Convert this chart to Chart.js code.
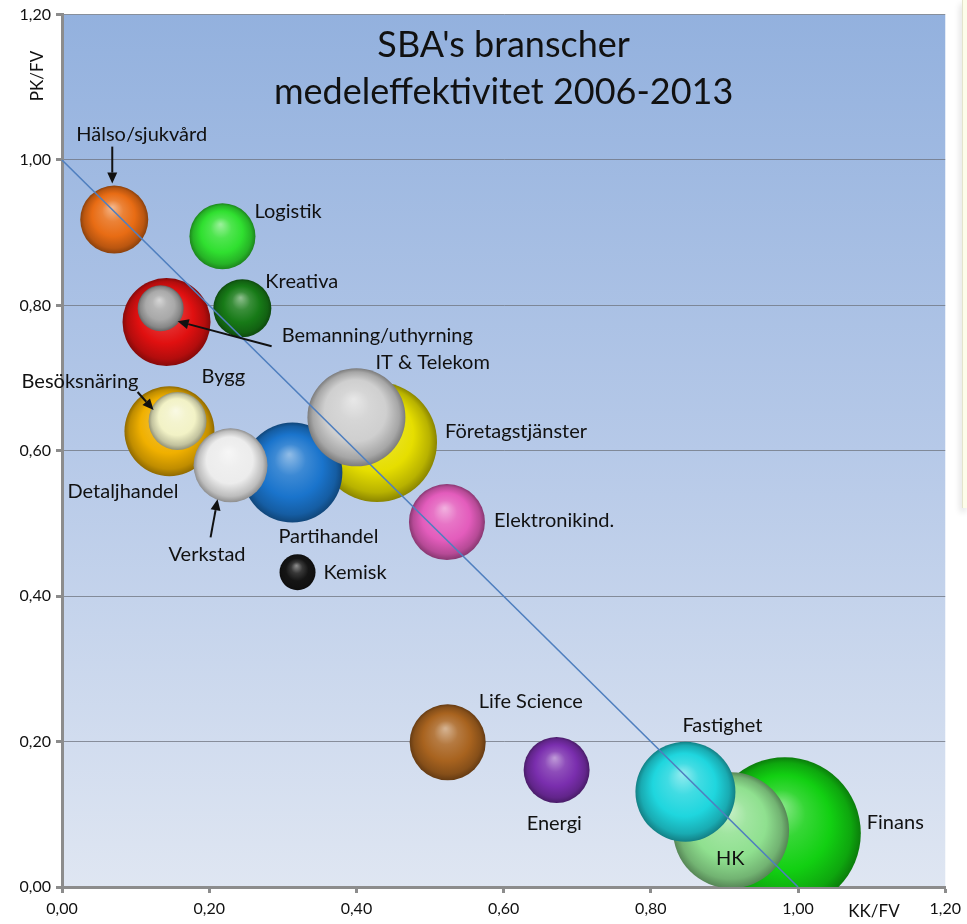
<!DOCTYPE html>
<html lang="sv">
<head>
<meta charset="UTF-8">
<title>SBA's branscher medeleffektivitet 2006-2013</title>
<script src="https://cdn.jsdelivr.net/npm/chart.js"></script>
<style>
  html, body { margin: 0; padding: 0; background: #fff; }
  #wrap { position: relative; width: 967px; height: 924px; }
  #side { position: absolute; left: 962px; top: 0; width: 5px; height: 508px;
          background: #fdfdea; border-left: 1px solid #e4e4cc; box-shadow: -2px 4px 6px rgba(0,0,0,0.12); }
</style>
</head>
<body>
<div id="wrap">
  <canvas id="chart" width="967" height="924"></canvas>
  <div id="side"></div>
</div>
<script>
// branches in drawing order (first drawn = furthest back)
const branches = ['Finans', 'HK', 'Fastighet', 'Företagstjänster', 'Partihandel', 'IT & Telekom',
  'Detaljhandel', 'Besöksnäring', 'Verkstad', 'Bygg', 'Bemanning/uthyrning', 'Hälso/sjukvård',
  'Logistik', 'Kreativa', 'Elektronikind.', 'Kemisk', 'Life Science', 'Energi'];
const kkfv = [0.982, 0.909, 0.847, 0.428, 0.313, 0.400, 0.146, 0.157, 0.229, 0.142, 0.134, 0.071,
  0.218, 0.245, 0.523, 0.320, 0.524, 0.672];
const pkfv = [0.074, 0.078, 0.131, 0.612, 0.570, 0.646, 0.627, 0.641, 0.580, 0.777, 0.796, 0.918,
  0.895, 0.796, 0.502, 0.433, 0.199, 0.161];
const sizes = [76, 58, 50, 60, 50, 49, 45, 29, 37, 44, 23, 34, 33, 29, 38, 18, 38, 33];
const tickValues = [0, 0.2, 0.4, 0.6, 0.8, 1.0, 1.2];
const breakEven = [{ x: 0, y: 1 }, { x: 1, y: 0 }];

const sphereColors = ['#12d012', '#8fe08f', '#1fd6de', '#e6de00', '#1a74cc', '#cfcfcf',
  '#f0b000', '#f2f2c6', '#ececec', '#e01010', '#a9a9a9', '#e86c14',
  '#30e030', '#177a17', '#e35cbc', '#151515', '#a8631f', '#7a2eae'];

// label placement relative to the bubble centre: [dx, dy] for text, optional arrow [x1,y1,x2,y2]
const labelLayout = {
  'Finans': { t: [82, -11] },
  'HK': { t: [-15, 28] },
  'Fastighet': { t: [-3, -66] },
  'Företagstjänster': { t: [68, -11] },
  'Partihandel': { t: [-14, 64] },
  'IT & Telekom': { t: [19, -55] },
  'Detaljhandel': { t: [-102, 60] },
  'Besöksnäring': { t: [-156, -39], a: [-40, -29, -24, -11] },
  'Verkstad': { t: [-62, 89], a: [-20, 72, -13, 34] },
  'Bygg': { t: [35, 54] },
  'Bemanning/uthyrning': { t: [121, 27], a: [111, 38, 17, 13] },
  'Hälso/sjukvård': { t: [-38, -85], a: [-2, -73, -2, -36] },
  'Logistik': { t: [32, -25] },
  'Kreativa': { t: [23, -27] },
  'Elektronikind.': { t: [47, -1] },
  'Kemisk': { t: [26, 0] },
  'Life Science': { t: [31, -41] },
  'Energi': { t: [-30, 54] }
};

const FONT = 'Lato, Calibri, "Open Sans", sans-serif';
const AXIS_GREY = '#8c8c8c';

function hexRgb(h) {
  const n = parseInt(h.slice(1), 16);
  return [(n >> 16) & 255, (n >> 8) & 255, n & 255];
}
function mix(h, target, t) {
  const c = hexRgb(h);
  return 'rgb(' + c.map(v => Math.round(v + (target - v) * t)).join(',') + ')';
}

// glossy sphere look: broad highlight in the upper half, darker rim
function sphereFill(ctx) {
  const i = ctx.dataIndex;
  const base = sphereColors[i];
  const chart = ctx.chart;
  const xs = chart.scales.x, ys = chart.scales.y;
  if (!xs || !ys) return base;
  const cx = xs.getPixelForValue(kkfv[i]);
  const cy = ys.getPixelForValue(pkfv[i]);
  const r = sizes[i];
  if (!isFinite(cx) || !isFinite(cy)) return base;
  const g = chart.ctx.createRadialGradient(cx - r * 0.06, cy - r * 0.36, r * 0.02, cx, cy, r);
  g.addColorStop(0, mix(base, 255, 0.5));
  g.addColorStop(0.3, mix(base, 255, 0.15));
  g.addColorStop(0.62, base);
  g.addColorStop(0.88, mix(base, 0, 0.2));
  g.addColorStop(1, mix(base, 0, 0.4));
  return g;
}

const plotBackground = {
  id: 'plotBackground',
  beforeDraw(chart) {
    const { ctx, chartArea: a } = chart;
    const g = ctx.createLinearGradient(0, a.top, 0, a.bottom);
    g.addColorStop(0, '#93b1de');
    g.addColorStop(0.5, '#b6c9e8');
    g.addColorStop(1, '#dfe6f2');
    ctx.save();
    ctx.fillStyle = g;
    ctx.fillRect(a.left, a.top, a.right - a.left, a.bottom - a.top);
    ctx.restore();
  }
};

const titles = {
  id: 'titles',
  beforeDatasetsDraw(chart) {
    const { ctx, chartArea: a } = chart;
    const mid = (a.left + a.right) / 2;
    ctx.save();
    ctx.fillStyle = '#111';
    ctx.textAlign = 'center';
    ctx.textBaseline = 'middle';
    ctx.font = '36px ' + FONT;
    ctx.fillText("SBA's branscher", mid, 45);
    ctx.fillText('medeleffektivitet 2006-2013', mid, 92);
    // axis titles
    ctx.font = '17px ' + FONT;
    ctx.fillText('KK/FV', 874, 912);
    ctx.translate(38, 76);
    ctx.rotate(-Math.PI / 2);
    ctx.fillText('PK/FV', 0, 0);
    ctx.restore();
  }
};

function arrow(ctx, x1, y1, x2, y2) {
  const ang = Math.atan2(y2 - y1, x2 - x1);
  const hl = 11, hw = 5;
  const bx = x2 - Math.cos(ang) * hl, by = y2 - Math.sin(ang) * hl;
  ctx.beginPath();
  ctx.moveTo(x1, y1);
  ctx.lineTo(bx, by);
  ctx.stroke();
  ctx.beginPath();
  ctx.moveTo(x2, y2);
  ctx.lineTo(bx - Math.sin(ang) * hw, by + Math.cos(ang) * hw);
  ctx.lineTo(bx + Math.sin(ang) * hw, by - Math.cos(ang) * hw);
  ctx.closePath();
  ctx.fill();
}

const bubbleLabels = {
  id: 'bubbleLabels',
  afterDatasetsDraw(chart) {
    const { ctx } = chart;
    const xs = chart.scales.x, ys = chart.scales.y;
    ctx.save();
    ctx.fillStyle = '#111';
    ctx.strokeStyle = '#111';
    ctx.lineWidth = 2;
    ctx.font = '20px ' + FONT;
    ctx.textAlign = 'left';
    ctx.textBaseline = 'middle';
    branches.forEach((name, i) => {
      const cx = xs.getPixelForValue(kkfv[i]);
      const cy = ys.getPixelForValue(pkfv[i]);
      const lay = labelLayout[name];
      ctx.fillText(name, cx + lay.t[0], cy + lay.t[1]);
      if (lay.a) arrow(ctx, cx + lay.a[0], cy + lay.a[1], cx + lay.a[2], cy + lay.a[3]);
    });
    ctx.restore();
  }
};

const fmt = v => v.toFixed(2).replace('.', ',');

new Chart(document.getElementById('chart'), {
  data: {
    datasets: [{
      type: 'line',
      data: breakEven,
      borderColor: '#4f7fbf',
      borderWidth: 1.6,
      pointRadius: 0,
      order: 0,
      clip: false
    }, {
      type: 'bubble',
      label: 'Branscher',
      data: kkfv.map((x, i) => ({ x: x, y: pkfv[i], r: sizes[i] })),
      backgroundColor: sphereFill,
      borderWidth: 0,
      hoverRadius: 0,
      order: 1,
      clip: 0
    }]
  },
  options: {
    responsive: false,
    animation: false,
    events: [],
    layout: { autoPadding: false, padding: { top: 14, right: 19, left: 0, bottom: 0 } },
    plugins: { legend: { display: false }, tooltip: { enabled: false } },
    scales: {
      x: {
        type: 'linear', min: 0, max: 1.2,
        afterFit(s) { s.height = 37; },
        afterBuildTicks(s) { s.ticks = tickValues.map(v => ({ value: v })); },
        border: { color: AXIS_GREY, width: 3 },
        grid: { drawOnChartArea: false, drawTicks: true, tickLength: 6, tickColor: AXIS_GREY, tickWidth: 3 },
        ticks: {
          callback: v => fmt(v), color: '#111', padding: 6,
          font: { family: FONT, size: 16 }
        }
      },
      y: {
        type: 'linear', min: 0, max: 1.2,
        afterFit(s) { s.width = 62; },
        afterBuildTicks(s) { s.ticks = tickValues.map(v => ({ value: v })); },
        border: { color: AXIS_GREY, width: 3 },
        grid: { color: 'rgba(110,115,125,0.75)', lineWidth: 1, drawTicks: true, tickLength: 6, tickColor: AXIS_GREY, tickWidth: 3 },
        ticks: { callback: v => fmt(v), color: '#111', padding: 5, font: { family: FONT, size: 16 } }
      }
    }
  },
  plugins: [plotBackground, titles, bubbleLabels]
});
</script>
</body>
</html>
